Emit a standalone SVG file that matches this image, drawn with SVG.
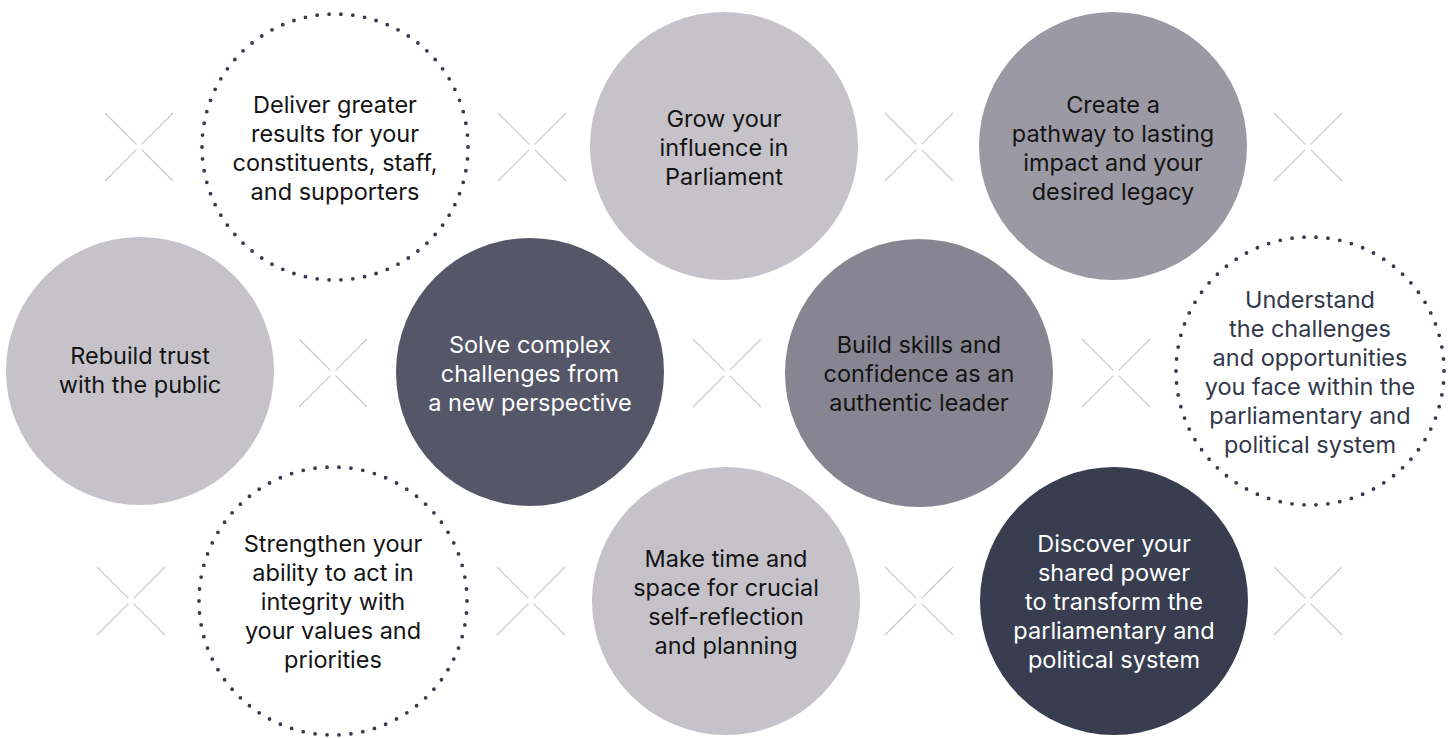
<svg xmlns="http://www.w3.org/2000/svg" xmlns:xlink="http://www.w3.org/1999/xlink" width="1456" height="738" viewBox="0 0 1456 738">
<style>
.t{font-family:Inter,"Liberation Sans",Arial,sans-serif;font-size:23.5px;text-anchor:middle}
.dk{fill:#141414}
.wt{fill:#ffffff}
.nv{fill:#33384a}
.dot{fill:none;stroke:#353a4d;stroke-width:3.8;stroke-linecap:round;stroke-dasharray:0 1}
.xm line{stroke:#c9c9cc;stroke-width:1.2}
.c1{fill:#c5c3c9}
.c2{fill:#9b99a3}
.c3{fill:#878591}
.c4{fill:#555667}
.c5{fill:#383e50}
</style>
<defs>
<g id="xm" class="xm">
<line x1="-34" y1="-34" x2="-2.6" y2="-2.6"/>
<line x1="34" y1="-34" x2="2.6" y2="-2.6"/>
<line x1="-34" y1="34" x2="-2.6" y2="2.6"/>
<line x1="34" y1="34" x2="2.6" y2="2.6"/>
</g>
</defs>
<rect width="1456" height="738" fill="#ffffff"/>
<g id="separators">
<use xlink:href="#xm" x="139" y="147"/>
<use xlink:href="#xm" x="532" y="147"/>
<use xlink:href="#xm" x="919" y="147"/>
<use xlink:href="#xm" x="1308" y="147"/>
<use xlink:href="#xm" x="333" y="373"/>
<use xlink:href="#xm" x="727" y="373"/>
<use xlink:href="#xm" x="1116" y="373"/>
<use xlink:href="#xm" x="131" y="601"/>
<use xlink:href="#xm" x="531" y="601"/>
<use xlink:href="#xm" x="919" y="601"/>
<use xlink:href="#xm" x="1308" y="601"/>
</g>
<g id="connectors"/>
<g id="n-deliver">
<circle class="dot" cx="335" cy="147" r="133" pathLength="70"/>
<text class="t dk" x="335"><tspan x="335" y="113">Deliver greater</tspan><tspan x="335" y="142">results for your</tspan><tspan x="335" y="171">constituents, staff,</tspan><tspan x="335" y="200">and supporters</tspan></text>
</g>
<g id="n-grow">
<circle class="c1" cx="724" cy="146" r="134"/>
<text class="t dk"><tspan x="724" y="127">Grow your</tspan><tspan x="724" y="156">influence in</tspan><tspan x="724" y="185">Parliament</tspan></text>
</g>
<g id="n-create">
<circle class="c2" cx="1113" cy="146" r="134"/>
<text class="t dk"><tspan x="1113" y="113">Create a</tspan><tspan x="1113" y="142">pathway to lasting</tspan><tspan x="1113" y="171">impact and your</tspan><tspan x="1113" y="200">desired legacy</tspan></text>
</g>
<g id="n-rebuild">
<circle class="c1" cx="140" cy="371" r="134"/>
<text class="t dk"><tspan x="140" y="364">Rebuild trust</tspan><tspan x="140" y="393">with the public</tspan></text>
</g>
<g id="n-solve">
<circle class="c4" cx="530" cy="372" r="134"/>
<text class="t wt"><tspan x="530" y="353">Solve complex</tspan><tspan x="530" y="382">challenges from</tspan><tspan x="530" y="411">a new perspective</tspan></text>
</g>
<g id="n-build">
<circle class="c3" cx="919" cy="373" r="134"/>
<text class="t dk"><tspan x="919" y="353">Build skills and</tspan><tspan x="919" y="382">confidence as an</tspan><tspan x="919" y="411">authentic leader</tspan></text>
</g>
<g id="n-understand">
<circle class="dot" cx="1310" cy="371" r="134" pathLength="70"/>
<text class="t nv"><tspan x="1310" y="308">Understand</tspan><tspan x="1310" y="337">the challenges</tspan><tspan x="1310" y="366">and opportunities</tspan><tspan x="1310" y="395">you face within the</tspan><tspan x="1310" y="424">parliamentary and</tspan><tspan x="1310" y="453">political system</tspan></text>
</g>
<g id="n-strengthen">
<circle class="dot" cx="333" cy="601" r="134" pathLength="70"/>
<text class="t dk"><tspan x="333" y="552">Strengthen your</tspan><tspan x="333" y="581">ability to act in</tspan><tspan x="333" y="610">integrity with</tspan><tspan x="333" y="639">your values and</tspan><tspan x="333" y="668">priorities</tspan></text>
</g>
<g id="n-maketime">
<circle class="c1" cx="726" cy="601" r="134"/>
<text class="t dk"><tspan x="726" y="567">Make time and</tspan><tspan x="726" y="596">space for crucial</tspan><tspan x="726" y="625">self-reflection</tspan><tspan x="726" y="654">and planning</tspan></text>
</g>
<g id="n-discover">
<circle class="c5" cx="1114" cy="601" r="134"/>
<text class="t wt"><tspan x="1114" y="552">Discover your</tspan><tspan x="1114" y="581">shared power</tspan><tspan x="1114" y="610">to transform the</tspan><tspan x="1114" y="639">parliamentary and</tspan><tspan x="1114" y="668">political system</tspan></text>
</g>
</svg>
